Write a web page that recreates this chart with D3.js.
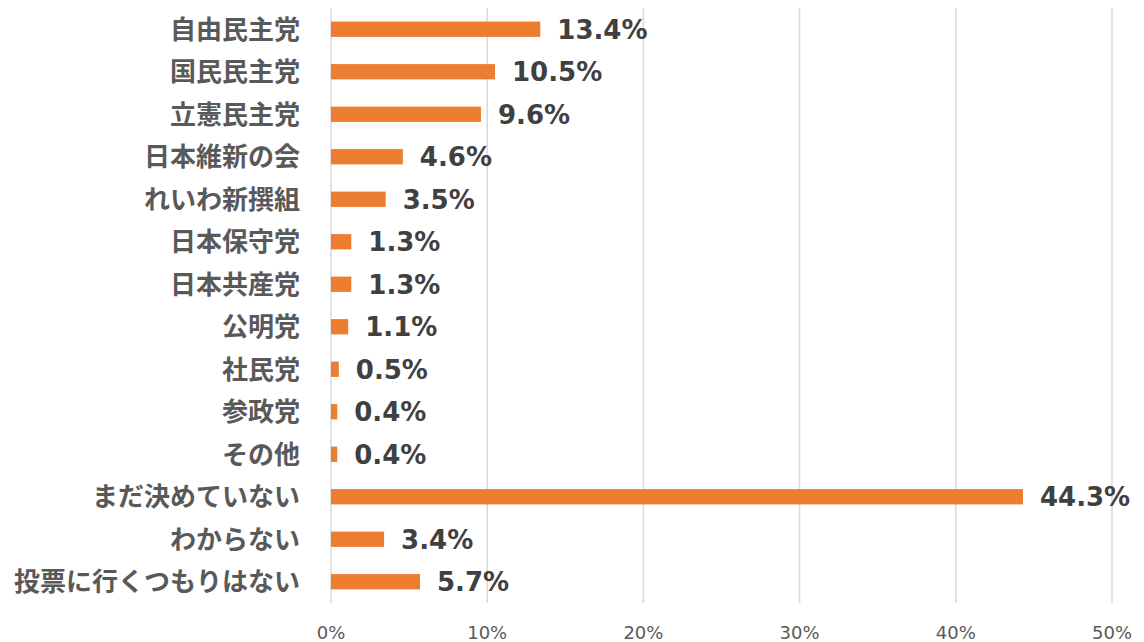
<!DOCTYPE html>
<html>
<head>
<meta charset="utf-8">
<script src="https://cdn.jsdelivr.net/npm/d3@7"></script>
<style>
  body { margin: 0; background: #fff; }
  svg { display: block; }
</style>
</head>
<body>
<div id="chart"></div>
<script>
// Party support (%)
const parties = ["自由民主党", "国民民主党", "立憲民主党", "日本維新の会", "れいわ新撰組",
  "日本保守党", "日本共産党", "公明党", "社民党", "参政党", "その他",
  "まだ決めていない", "わからない", "投票に行くつもりはない"];
const shares = [13.4, 10.5, 9.6, 4.6, 3.5, 1.3, 1.3, 1.1, 0.5, 0.4, 0.4, 44.3, 3.4, 5.7];
const xTicks = [0, 10, 20, 30, 40, 50];

const width = 1144, height = 642;
const plotLeft = 331, plotRight = 1112, plotTop = 8, plotBottom = 603;

const svg = d3.select("#chart").append("svg")
  .attr("width", width)
  .attr("height", height);

const x = d3.scaleLinear().domain([0, 50]).range([plotLeft, plotRight]);
const y = d3.scaleBand().domain(parties).range([plotTop, plotBottom]).paddingInner(0.64).paddingOuter(0.32);

// gridlines
svg.append("g")
  .selectAll("line")
  .data(xTicks)
  .join("line")
  .attr("x1", d => x(d)).attr("x2", d => x(d))
  .attr("y1", plotTop).attr("y2", plotBottom)
  .attr("stroke", "#d9d9d9")
  .attr("stroke-width", 1.5);

// x axis labels
svg.append("g")
  .selectAll("text")
  .data(xTicks)
  .join("text")
  .attr("x", d => x(d))
  .attr("y", 639)
  .attr("text-anchor", "middle")
  .attr("font-family", "'DejaVu Sans', Verdana, sans-serif")
  .attr("font-size", "18px")
  .attr("fill", "#595959")
  .text(d => d + "%");

const rows = parties.map((p, i) => ({ party: p, value: shares[i] }));

// bars
svg.append("g")
  .selectAll("rect")
  .data(rows)
  .join("rect")
  .attr("x", x(0))
  .attr("y", d => y(d.party))
  .attr("width", d => x(d.value) - x(0))
  .attr("height", y.bandwidth())
  .attr("fill", "#ed7d31");

// category labels
svg.append("g")
  .selectAll("text")
  .data(rows)
  .join("text")
  .attr("x", 300)
  .attr("y", d => y(d.party) + y.bandwidth() / 2)
  .attr("dy", "0.36em")
  .attr("text-anchor", "end")
  .attr("font-family", "'Noto Sans CJK JP', sans-serif")
  .attr("font-weight", "bold")
  .attr("font-size", "26px")
  .attr("fill", "#595959")
  .text(d => d.party);

// value labels
svg.append("g")
  .selectAll("text")
  .data(rows)
  .join("text")
  .attr("x", d => x(d.value) + 17)
  .attr("y", d => y(d.party) + y.bandwidth() / 2)
  .attr("dy", "0.36em")
  .attr("font-family", "'DejaVu Sans', Verdana, sans-serif")
  .attr("font-weight", "bold")
  .attr("font-size", "26px")
  .attr("fill", "#404040")
  .text(d => d.value.toFixed(1) + "%");
</script>
</body>
</html>
